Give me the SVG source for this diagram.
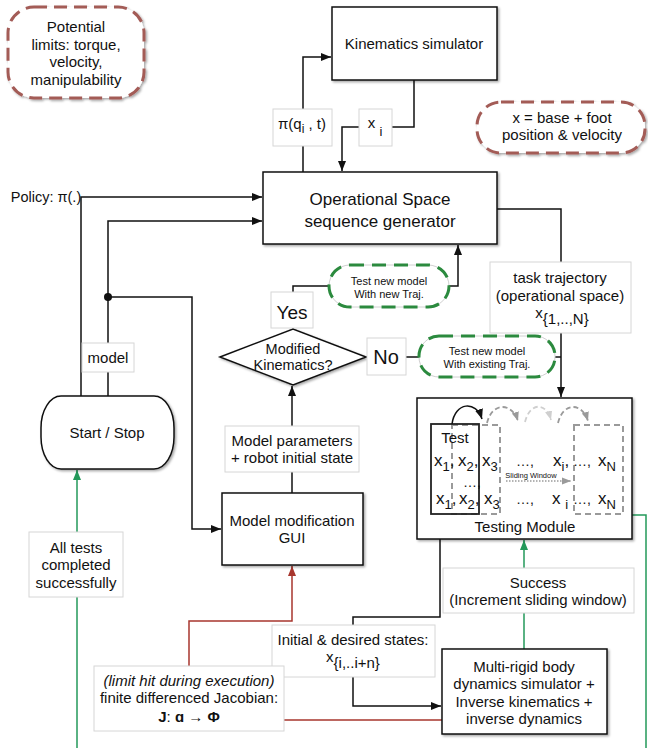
<svg xmlns="http://www.w3.org/2000/svg" width="648" height="748" viewBox="0 0 648 748">
<defs>
<filter id="sh" x="-10%" y="-10%" width="130%" height="130%">
<feDropShadow dx="1.5" dy="1.5" stdDeviation="1" flood-color="#000" flood-opacity="0.35"/>
</filter>
<marker id="ab" viewBox="0 0 10 10" refX="10" refY="5" markerWidth="10" markerHeight="10" markerUnits="userSpaceOnUse" orient="auto"><path d="M0,1 L10,5 L0,9 z" fill="#111"/></marker>
<marker id="ag" viewBox="0 0 10 10" refX="10" refY="5" markerWidth="10" markerHeight="10" markerUnits="userSpaceOnUse" orient="auto"><path d="M0,1 L10,5 L0,9 z" fill="#23995a"/></marker>
<marker id="ar" viewBox="0 0 10 10" refX="10" refY="5" markerWidth="10" markerHeight="10" markerUnits="userSpaceOnUse" orient="auto"><path d="M0,1 L10,5 L0,9 z" fill="#a8362e"/></marker>
<marker id="agr" viewBox="0 0 10 10" refX="10" refY="5" markerWidth="9" markerHeight="9" markerUnits="userSpaceOnUse" orient="auto"><path d="M0,1 L10,5 L0,9 z" fill="#9a9a9a"/></marker>
<marker id="agl" viewBox="0 0 10 10" refX="10" refY="5" markerWidth="9" markerHeight="9" markerUnits="userSpaceOnUse" orient="auto"><path d="M0,1 L10,5 L0,9 z" fill="#cfcfcf"/></marker>
</defs>
<style>
text{font-family:"Liberation Sans",Arial,Helvetica,sans-serif;fill:#111;text-anchor:middle}
.st{text-anchor:start}
.box{fill:#fff;stroke:#111;stroke-width:1.5;filter:url(#sh)}
.lbl{fill:#fff;stroke:#d6d6d6;stroke-width:1}
.c{fill:none;stroke:#111;stroke-width:1.5}
.cg{fill:none;stroke:#23995a;stroke-width:1.5}
.cr{fill:none;stroke:#a8362e;stroke-width:1.5}
.brn{fill:#fff;stroke:#a35b57;stroke-width:3;stroke-dasharray:13 7;filter:url(#sh)}
.grn{fill:none;stroke:#2b8a3e;stroke-width:3;stroke-dasharray:14 8}
.gbase{fill:#fff;stroke:#d0d0d0;stroke-width:1}
.f15{font-size:15px}
.f11{font-size:11px}
</style>

<g id="connectors">
<path class="c" d="M303,172 V57 H331" marker-end="url(#ab)"/>
<path class="c" d="M414,80 V127 H342 V171" marker-end="url(#ab)"/>
<path class="c" d="M81,396 V197 H262" marker-end="url(#ab)"/>
<path class="c" d="M108,396 V221 H262" marker-end="url(#ab)"/>
<path class="c" d="M108,297 H192 V529 H221" marker-end="url(#ab)"/>
<circle cx="108" cy="297" r="4" fill="#111"/>
<path class="c" d="M292,493 V386" marker-end="url(#ab)"/>
<path class="c" d="M293,329 V286 H458 V245" marker-end="url(#ab)"/>
<path class="c" d="M366,357 H561"/>
<path class="c" d="M497,209 H561 V397" marker-end="url(#ab)"/>
<path class="c" d="M440,514 V617 H353 V706 H441" marker-end="url(#ab)"/>
<path class="cg" d="M524,649 V540" marker-end="url(#ag)"/>
<path class="cg" d="M632,515 H646 V748"/>
<path class="cg" d="M77,748 V470" marker-end="url(#ag)"/>
<path class="cr" d="M442,720 H189 V621 H292 V566" marker-end="url(#ar)"/>
</g>

<g id="potential-limits">
<rect class="brn" x="8" y="7" width="136" height="91" rx="26"/>
<text class="f15" x="76" y="32">Potential</text>
<text class="f15" x="76" y="50">limits: torque,</text>
<text class="f15" x="76" y="67">velocity,</text>
<text class="f15" x="76" y="85">manipulability</text>
</g>

<g id="state-note">
<rect class="brn" x="477" y="102" width="168" height="51" rx="24"/>
<text class="f15" x="562" y="123">x = base + foot</text>
<text class="f15" x="562" y="140">position &amp; velocity</text>
</g>

<g id="kinematics-simulator">
<rect class="box" x="332" y="7" width="165" height="73"/>
<text class="f15" x="414" y="49">Kinematics simulator</text>
</g>

<g id="label-pi">
<rect class="lbl" x="273" y="109" width="59" height="37"/>
<text class="f15" x="302" y="129">π(q<tspan font-size="12" dy="4">i</tspan><tspan dy="-4"> , t)</tspan></text>
</g>

<g id="label-xi">
<rect class="lbl" x="359" y="109" width="33" height="37"/>
<text class="f15" x="375" y="128">x <tspan font-size="13" dy="8">i</tspan></text>
</g>

<g id="operational-space">
<rect class="box" x="263" y="172" width="234" height="72"/>
<text x="380" y="205" font-size="17">Operational Space</text>
<text x="380" y="227" font-size="17">sequence generator</text>
</g>

<g id="policy">
<text x="46" y="202" font-size="14.5">Policy: π(.)</text>
</g>

<g id="label-model">
<rect class="lbl" x="82" y="343" width="52" height="29"/>
<text class="f15" x="108" y="363">model</text>
</g>

<g id="start-stop">
<rect class="box" x="41" y="396" width="133" height="73" rx="20" ry="32"/>
<text class="f15" x="107" y="438">Start / Stop</text>
</g>

<g id="label-all-tests">
<rect class="lbl" x="29" y="532" width="94" height="65"/>
<text class="f15" x="76" y="553">All tests</text>
<text class="f15" x="76" y="570">completed</text>
<text class="f15" x="76" y="588">successfully</text>
</g>

<g id="modified-kinematics">
<polygon class="box" points="220,357 293,329 366,357 293,385"/>
<text x="293" y="354" font-size="14.5">Modified</text>
<text x="293" y="370" font-size="14.5">Kinematics?</text>
</g>

<g id="label-yes">
<rect class="lbl" x="271" y="292" width="42" height="36"/>
<text x="292" y="319" font-size="19">Yes</text>
</g>

<g id="label-no">
<rect class="lbl" x="367" y="338" width="39" height="37"/>
<text x="386" y="364" font-size="20">No</text>
</g>

<g id="test-new-traj">
<rect class="gbase" x="329" y="265" width="120" height="42" rx="21"/>
<rect class="grn" x="329" y="265" width="120" height="42" rx="21"/>
<text class="f11" x="389" y="285">Test new model</text>
<text class="f11" x="389" y="298">With new Traj.</text>
</g>

<g id="test-existing-traj">
<rect class="gbase" x="419" y="336" width="136" height="41" rx="20"/>
<rect class="grn" x="419" y="336" width="136" height="41" rx="20"/>
<text class="f11" x="487" y="355">Test new model</text>
<text class="f11" x="487" y="368">With existing Traj.</text>
</g>

<g id="label-task-trajectory">
<rect class="lbl" x="490" y="262" width="141" height="71"/>
<text class="f15" x="560" y="283">task trajectory</text>
<text class="f15" x="560" y="301">(operational space)</text>
<text class="f15" x="562" y="318" font-size="14">x<tspan font-size="15" dy="6">{1,..,N}</tspan></text>
</g>

<g id="label-model-parameters">
<rect class="lbl" x="225" y="426" width="134" height="46"/>
<text class="f15" x="292" y="446">Model parameters</text>
<text class="f15" x="292" y="463">+ robot initial state</text>
</g>

<g id="model-modification-gui">
<rect class="box" x="222" y="493" width="141" height="72"/>
<text class="f15" x="292" y="526">Model modification</text>
<text class="f15" x="292" y="543">GUI</text>
</g>

<g id="testing-module">
<rect class="box" x="417" y="398" width="215" height="141"/>
<rect x="452" y="425" width="48" height="89" fill="none" stroke="#9a9a9a" stroke-width="2" stroke-dasharray="6 4"/>
<rect x="574" y="425" width="49" height="89" fill="none" stroke="#9a9a9a" stroke-width="2" stroke-dasharray="6 4"/>
<rect x="431" y="424" width="48" height="90" fill="none" stroke="#222" stroke-width="1.8"/>
<path d="M452,424 C455,402 476,400 482,419" fill="none" stroke="#111" stroke-width="1.5" marker-end="url(#ab)"/>
<path d="M487,423 C492,402 512,402 518,421" fill="none" stroke="#9a9a9a" stroke-width="1.8" stroke-dasharray="5 3" marker-end="url(#agr)"/>
<path d="M525,422 C530,402 546,402 551,420" fill="none" stroke="#cfcfcf" stroke-width="1.8" stroke-dasharray="5 3" marker-end="url(#agl)"/>
<path d="M558,423 C563,402 582,402 588,421" fill="none" stroke="#9a9a9a" stroke-width="1.8" stroke-dasharray="5 3" marker-end="url(#agr)"/>
<text class="f15" x="455" y="443">Test</text>
<g font-size="17">
<text class="st" x="434" y="466">x<tspan font-size="13" dy="5">1</tspan><tspan dy="-5">,</tspan></text>
<text class="st" x="458" y="466">x<tspan font-size="13" dy="5">2</tspan><tspan dy="-5">,</tspan></text>
<text class="st" x="482" y="466">x<tspan font-size="13" dy="5">3</tspan></text>
<text class="st" x="516" y="466" font-size="14">…,</text>
<text class="st" x="553" y="466">x<tspan font-size="13" dy="5">i</tspan><tspan dy="-5">,</tspan></text>
<text class="st" x="573" y="466" font-size="14">…,</text>
<text class="st" x="598" y="466">x<tspan font-size="13" dy="5">N</tspan></text>
<text class="st" x="463" y="487" font-size="14">…,</text>
<text class="st" x="436" y="504">x<tspan font-size="13" dy="5">1</tspan><tspan dy="-5">,</tspan></text>
<text class="st" x="459" y="504">x<tspan font-size="13" dy="5">2</tspan><tspan dy="-5">,</tspan></text>
<text class="st" x="484" y="504">x<tspan font-size="13" dy="5">3</tspan></text>
<text class="st" x="516" y="504" font-size="14">…,</text>
<text class="st" x="552" y="504">x <tspan font-size="13" dy="5">i</tspan></text>
<text class="st" x="573" y="504" font-size="14">…,</text>
<text class="st" x="598" y="504">x<tspan font-size="13" dy="5">N</tspan></text>
</g>
<text x="531" y="478" font-size="7.5">Sliding Window</text>
<path d="M506,481 H571" fill="none" stroke="#9a9a9a" stroke-width="1.5" stroke-dasharray="1.5 1.5" marker-end="url(#agr)"/>
<text class="f15" x="525" y="532">Testing Module</text>
</g>

<g id="label-success">
<rect class="lbl" x="443" y="568" width="191" height="45"/>
<text class="f15" x="538" y="588">Success</text>
<text class="f15" x="538" y="605">(Increment sliding window)</text>
</g>

<g id="label-initial-states">
<rect class="lbl" x="272" y="625" width="163" height="52"/>
<text class="f15" x="353" y="645">Initial &amp; desired states:</text>
<text class="f15" x="353" y="662" font-size="14">x<tspan font-size="15" dy="6">{i,..i+n}</tspan></text>
</g>

<g id="multi-rigid-body">
<rect class="box" x="442" y="649" width="165" height="85"/>
<text class="f15" x="524" y="672">Multi-rigid body</text>
<text class="f15" x="524" y="689">dynamics simulator +</text>
<text class="f15" x="524" y="707">Inverse kinematics +</text>
<text class="f15" x="524" y="724">inverse dynamics</text>
</g>

<g id="label-jacobian">
<rect class="lbl" x="94" y="666" width="190" height="65"/>
<text class="f15" x="189" y="686" font-style="italic">(limit hit during execution)</text>
<text class="f15" x="189" y="703">finite differenced Jacobian:</text>
<text class="f15" x="189" y="722"><tspan font-weight="bold">J</tspan>: <tspan font-weight="bold">ɑ → Φ</tspan></text>
</g>
</svg>
